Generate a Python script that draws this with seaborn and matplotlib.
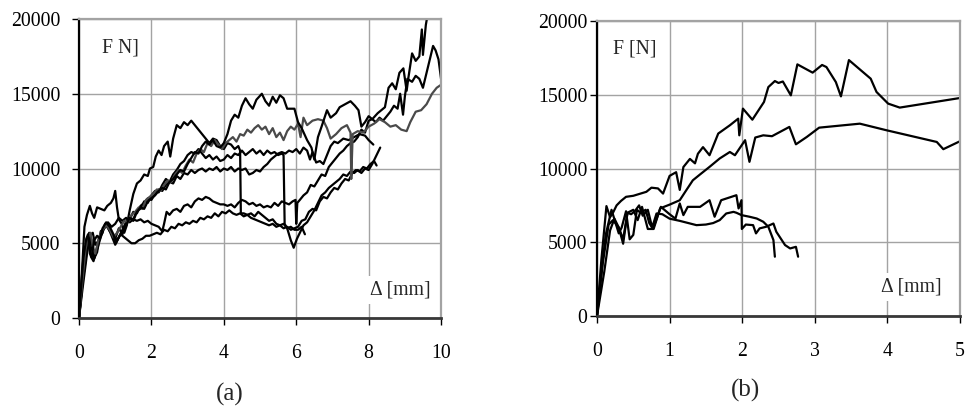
import numpy as np
import pandas as pd
import matplotlib
matplotlib.use("Agg")
import matplotlib.pyplot as plt
import seaborn as sns

# ---- panel (a): force F [N] vs displacement [mm], seven specimens ----
a_top = np.array([
    (0, 0), (0.05, 1800), (0.12, 4000), (0.2, 5300), (0.25, 5600), (0.3, 4300), (0.35, 4100),
    (0.42, 5200), (0.5, 5500), (0.58, 5300), (0.65, 6000), (0.75, 6400), (0.85, 6100),
    (0.95, 5600), (1.02, 5000), (1.1, 5400), (1.2, 5800), (1.3, 6200), (1.4, 6700), (1.5, 6500),
    (1.6, 7100), (1.7, 7400), (1.8, 7300), (1.9, 7800), (2.0, 8000), (2.1, 8200), (2.2, 8500),
    (2.3, 8700), (2.4, 8600), (2.5, 9100), (2.6, 9300), (2.7, 9600), (2.8, 9900), (2.9, 9800),
    (3.0, 10300), (3.1, 10700), (3.2, 11100), (3.3, 11000), (3.4, 11500), (3.5, 11800),
    (3.6, 11600), (3.7, 11900), (3.8, 11500), (3.9, 11400), (4.0, 11700), (4.1, 12300),
    (4.2, 13200), (4.3, 13600), (4.4, 13400), (4.5, 14200), (4.6, 14700), (4.7, 14300),
    (4.8, 14000), (4.9, 14600), (5.05, 15000), (5.15, 14500), (5.25, 14200), (5.35, 14800),
    (5.45, 14400), (5.55, 14900), (5.65, 14700), (5.75, 14000), (5.85, 14000), (5.95, 14000),
    (6.05, 13100), (6.15, 12700), (6.3, 11900), (6.42, 11400), (6.5, 10600), (6.6, 12100),
    (6.7, 12800), (6.85, 13900), (6.95, 13400), (7.1, 13700), (7.2, 14100), (7.35, 14300),
    (7.5, 14500), (7.62, 14200), (7.72, 13900), (7.8, 12800), (7.9, 13100), (8.0, 13500),
    (8.1, 13300), (8.25, 13700), (8.45, 14100), (8.55, 15400), (8.65, 15700), (8.75, 15300),
    (8.85, 16400), (8.96, 16700), (9.05, 15200), (9.1, 16100), (9.2, 17700), (9.3, 17200),
    (9.4, 17500), (9.47, 19300), (9.5, 17600), (9.58, 19600), (9.65, 20600),
])

a_grey = np.array([
    (0, 0), (0.08, 2200), (0.18, 4600), (0.25, 5400), (0.32, 5700), (0.38, 4800), (0.45, 4300),
    (0.55, 5400), (0.65, 5900), (0.75, 6200), (0.85, 5900), (0.95, 5400), (1.05, 5700),
    (1.15, 6100), (1.25, 6500), (1.35, 6400), (1.45, 6900), (1.55, 7100), (1.65, 7400),
    (1.75, 7300), (1.85, 7900), (1.95, 8100), (2.05, 8300), (2.15, 8600), (2.25, 8500),
    (2.35, 8900), (2.45, 9200), (2.55, 9100), (2.65, 9600), (2.75, 9900), (2.85, 9700),
    (2.95, 10200), (3.05, 10600), (3.15, 10400), (3.25, 11000), (3.35, 11300), (3.45, 11100),
    (3.55, 11700), (3.65, 11500), (3.75, 11900), (3.85, 11600), (3.95, 11300), (4.05, 11700),
    (4.15, 11900), (4.25, 12100), (4.35, 11800), (4.45, 12300), (4.55, 12200), (4.65, 12600),
    (4.75, 12400), (4.85, 12700), (4.95, 12900), (5.05, 12600), (5.15, 12800), (5.25, 12300),
    (5.35, 12700), (5.45, 12100), (5.55, 12400), (5.65, 11900), (5.75, 12500), (5.85, 12800),
    (5.95, 12600), (6.05, 13000), (6.12, 12100), (6.2, 13400), (6.3, 12900), (6.45, 13200),
    (6.6, 13300), (6.75, 13200), (6.85, 12700), (6.95, 12000), (7.1, 12300), (7.25, 12700),
    (7.4, 12900), (7.5, 12400), (7.52, 9300), (7.56, 12300), (7.7, 12500), (7.85, 12400),
    (8.0, 12800), (8.15, 13000), (8.3, 13300), (8.45, 13100), (8.6, 12800), (8.75, 12900),
    (8.9, 12600), (9.05, 12500), (9.15, 13100), (9.3, 13800), (9.45, 13900), (9.6, 14300),
    (9.75, 15000), (9.88, 15400), (10.0, 15600),
])

a_plateau11 = np.array([
    (0, 0), (0.1, 2800), (0.2, 4400), (0.28, 5600), (0.35, 5200), (0.4, 3900), (0.5, 4400),
    (0.6, 5800), (0.7, 6000), (0.8, 6300), (0.9, 5700), (1.0, 5300), (1.1, 6000), (1.2, 5600),
    (1.3, 6400), (1.4, 6700), (1.5, 6600), (1.6, 7200), (1.7, 7300), (1.8, 7800), (1.9, 7700),
    (2.0, 8200), (2.1, 8500), (2.2, 8400), (2.3, 8900), (2.4, 9300), (2.5, 9100), (2.6, 9600),
    (2.7, 9900), (2.8, 10300), (2.9, 10500), (3.0, 10900), (3.1, 11100), (3.2, 11000),
    (3.3, 11300), (3.4, 11000), (3.5, 10700), (3.6, 10900), (3.7, 10600), (3.8, 10800),
    (3.9, 10500), (4.0, 10600), (4.1, 10900), (4.2, 10700), (4.3, 11000), (4.4, 10900),
    (4.5, 11200), (4.6, 10900), (4.7, 11100), (4.8, 11300), (4.9, 11000), (5.0, 11200),
    (5.1, 10900), (5.2, 11200), (5.3, 11000), (5.4, 11100), (5.5, 10900), (5.6, 11000),
    (5.65, 10900), (5.68, 6300), (5.75, 6000), (5.85, 5200), (5.93, 4700), (6.02, 5300),
    (6.1, 5700), (6.2, 6200), (6.3, 6400), (6.4, 6800), (6.5, 7200), (6.6, 7700), (6.7, 8200),
    (6.8, 8400), (6.9, 8700), (7.0, 8900), (7.1, 9100), (7.2, 9300), (7.3, 9600), (7.4, 9500),
    (7.5, 9800), (7.6, 9700), (7.7, 9900), (7.8, 9700), (7.9, 10000), (8.0, 9900),
    (8.1, 10300), (8.2, 10800), (8.32, 11400),
])

a_early = np.array([
    (0, 0), (0.08, 3000), (0.15, 6100), (0.22, 6900), (0.3, 7500), (0.36, 7000), (0.42, 6700),
    (0.5, 7400), (0.6, 7300), (0.7, 7200), (0.78, 7500), (0.88, 7700), (0.95, 8000),
    (1.0, 8500), (1.05, 7400), (1.1, 6600), (1.18, 6300), (1.25, 5700), (1.32, 6200),
    (1.4, 7200), (1.5, 8300), (1.6, 9000), (1.7, 9200), (1.8, 9600), (1.9, 9500),
    (1.96, 10000), (2.05, 10100), (2.12, 10800), (2.2, 11200), (2.28, 10900), (2.35, 11500),
    (2.45, 11800), (2.52, 10800), (2.6, 12000), (2.7, 12900), (2.8, 12700), (2.9, 13100),
    (3.0, 12900), (3.1, 13200), (3.2, 12900), (3.3, 12600), (3.4, 12300), (3.5, 12000),
    (3.6, 11700), (3.7, 12000), (3.8, 11900), (3.9, 11500), (4.0, 11300), (4.1, 11700),
    (4.2, 11600), (4.3, 11300), (4.4, 11500), (4.45, 11200), (4.47, 7000), (4.55, 7000),
    (4.65, 6900), (4.75, 7000), (4.85, 6800), (4.95, 7100), (5.05, 6900), (5.15, 6700),
    (5.25, 6500), (5.35, 6600), (5.45, 6300), (5.55, 6200), (5.65, 6300), (5.75, 6000),
    (5.85, 6100), (5.95, 5900), (6.05, 5900), (6.15, 6100), (6.24, 5600),
])

a_mid8 = np.array([
    (0, 0), (0.1, 2500), (0.2, 4600), (0.28, 5700), (0.35, 4700), (0.42, 4000), (0.5, 4600),
    (0.6, 5400), (0.7, 6100), (0.8, 6400), (0.9, 6100), (1.0, 6300), (1.1, 6700), (1.2, 6500),
    (1.3, 6700), (1.4, 6400), (1.5, 6600), (1.6, 6500), (1.7, 6600), (1.8, 6400), (1.9, 6500),
    (2.0, 6300), (2.1, 6200), (2.2, 6100), (2.3, 5800), (2.35, 6300), (2.42, 7100),
    (2.5, 6900), (2.6, 7200), (2.7, 7300), (2.8, 7100), (2.9, 7500), (3.0, 7600), (3.1, 7400),
    (3.2, 7800), (3.3, 8000), (3.4, 7900), (3.5, 8100), (3.6, 8000), (3.7, 7800), (3.8, 7700),
    (3.9, 7600), (4.0, 7600), (4.1, 7500), (4.2, 7600), (4.3, 7400), (4.4, 7700), (4.5, 7900),
    (4.6, 7800), (4.7, 7600), (4.8, 7700), (4.9, 7500), (5.0, 7600), (5.1, 7400), (5.2, 7500),
    (5.3, 7400), (5.4, 7700), (5.5, 7500), (5.6, 7800), (5.7, 7700), (5.8, 7600), (5.9, 7800),
    (5.98, 7900), (6.0, 6300), (6.03, 7700), (6.1, 7900), (6.2, 8200), (6.3, 8400),
    (6.4, 8900), (6.5, 8800), (6.6, 9200), (6.7, 9600), (6.8, 9500), (6.9, 10100),
    (7.0, 10400), (7.1, 10700), (7.2, 11000), (7.3, 11200), (7.4, 11500), (7.5, 11700),
    (7.6, 11800), (7.7, 12100), (7.8, 12600), (7.9, 12400), (8.0, 13200), (8.1, 13300),
    (8.2, 13100), (8.3, 13400), (8.4, 13200), (8.5, 13500), (8.6, 13800), (8.7, 14200),
    (8.8, 14000), (8.87, 15000), (8.95, 13600), (9.0, 14800), (9.07, 16000), (9.2, 15800),
    (9.3, 16200), (9.4, 16000), (9.5, 15400), (9.6, 16400), (9.7, 17400), (9.78, 18200),
    (9.85, 17900), (9.93, 17300), (10.0, 16000),
])

a_low = np.array([
    (0, 0), (0.1, 2400), (0.2, 4200), (0.3, 5500), (0.38, 5700), (0.45, 4900), (0.55, 5200),
    (0.65, 5900), (0.75, 6200), (0.85, 5800), (0.95, 5500), (1.05, 5200), (1.15, 5600),
    (1.25, 5400), (1.35, 5200), (1.45, 5000), (1.55, 5000), (1.65, 5200), (1.75, 5300),
    (1.85, 5500), (1.95, 5500), (2.05, 5600), (2.15, 5700), (2.25, 5600), (2.35, 5900),
    (2.45, 5800), (2.55, 6100), (2.65, 6000), (2.75, 6300), (2.85, 6200), (2.95, 6400),
    (3.05, 6300), (3.15, 6500), (3.25, 6400), (3.35, 6700), (3.45, 6600), (3.55, 6800),
    (3.65, 6700), (3.75, 7000), (3.85, 6800), (3.95, 7100), (4.05, 7000), (4.15, 7200),
    (4.25, 7000), (4.35, 6900), (4.45, 7000), (4.55, 6800), (4.65, 6900), (4.75, 6700),
    (4.85, 6600), (4.95, 6500), (5.05, 6400), (5.15, 6300), (5.25, 6200), (5.35, 6300),
    (5.45, 6100), (5.55, 6200), (5.65, 6000), (5.75, 6100), (5.85, 5900), (5.95, 6000),
    (6.05, 6100), (6.15, 6500), (6.25, 6600), (6.35, 7100), (6.45, 7300), (6.55, 7200),
    (6.65, 7800), (6.75, 8100), (6.85, 8000), (6.95, 8400), (7.05, 8700), (7.15, 8600),
    (7.25, 9000), (7.35, 9300), (7.45, 9200), (7.55, 9700), (7.65, 9900), (7.75, 9800),
    (7.85, 10100), (7.95, 10000), (8.05, 10300), (8.15, 10500), (8.22, 10200),
])

a_plateau10 = np.array([
    (0, 0), (0.1, 2000), (0.2, 3900), (0.27, 5300), (0.33, 4100), (0.4, 3800), (0.48, 4500),
    (0.55, 5300), (0.65, 5700), (0.72, 6300), (0.8, 6100), (0.9, 5500), (1.0, 4900),
    (1.1, 5400), (1.2, 5900), (1.3, 6400), (1.4, 6600), (1.5, 7100), (1.6, 7000), (1.7, 7500),
    (1.8, 7700), (1.9, 8000), (2.0, 7900), (2.1, 8300), (2.2, 8600), (2.3, 8500), (2.4, 8900),
    (2.5, 9100), (2.6, 9000), (2.7, 9500), (2.8, 9300), (2.9, 9700), (3.0, 9600), (3.1, 9900),
    (3.2, 9700), (3.3, 9900), (3.4, 10000), (3.5, 9800), (3.6, 10000), (3.7, 9900),
    (3.8, 10100), (3.9, 9800), (4.0, 10000), (4.1, 9900), (4.2, 10100), (4.3, 9800),
    (4.4, 10000), (4.5, 9900), (4.6, 10000), (4.7, 9600), (4.8, 9700), (4.9, 9900),
    (5.0, 9800), (5.1, 10100), (5.2, 10300), (5.3, 10600), (5.4, 10800), (5.5, 11000),
    (5.6, 11100), (5.7, 11000), (5.8, 11200), (5.9, 11100), (6.0, 11300), (6.1, 11000),
    (6.2, 11400), (6.3, 11200), (6.38, 10600), (6.45, 11100), (6.55, 10400), (6.65, 10500),
    (6.75, 10300), (6.85, 10900), (6.95, 11500), (7.05, 11800), (7.15, 11700), (7.3, 12000),
    (7.45, 11900), (7.6, 12100), (7.75, 12300), (7.9, 12200), (8.0, 11900), (8.13, 11600),
])

# ---- panel (b): four specimens ----
b_high = np.array([
    (0, 0), (0.06, 3800), (0.13, 7450), (0.18, 6700), (0.22, 7000), (0.27, 7500), (0.33, 7800),
    (0.4, 8080), (0.5, 8150), (0.6, 8300), (0.68, 8420), (0.75, 8700), (0.84, 8650),
    (0.91, 8300), (1.0, 9500), (1.09, 9750), (1.14, 8550), (1.19, 10100), (1.28, 10650),
    (1.35, 10350), (1.39, 11000), (1.46, 11450), (1.55, 10900), (1.67, 12370), (1.83, 12930),
    (1.945, 13380), (1.96, 12250), (2.01, 14060), (2.14, 13310), (2.3, 14510), (2.36, 15520),
    (2.45, 15930), (2.5, 15800), (2.56, 15900), (2.67, 14960), (2.76, 17060), (2.97, 16500),
    (3.1, 17020), (3.16, 16880), (3.29, 15860), (3.36, 14890), (3.47, 17350), (3.77, 16090),
    (3.85, 15190), (4.01, 14400), (4.17, 14130), (5.0, 14780),
])

b_second = np.array([
    (0, 0), (0.08, 3600), (0.16, 6200), (0.22, 6500), (0.3, 6000), (0.36, 4900), (0.42, 7000),
    (0.5, 7200), (0.56, 6500), (0.62, 7400), (0.7, 5900), (0.78, 5900), (0.87, 7300),
    (1.0, 7550), (1.14, 7850), (1.23, 8530), (1.32, 9200), (1.42, 9600), (1.55, 10110),
    (1.69, 10680), (1.83, 11120), (1.9, 10900), (2.04, 11920), (2.1, 10450), (2.18, 12100),
    (2.29, 12250), (2.41, 12190), (2.65, 12820), (2.74, 11640), (2.89, 12140), (3.06, 12770),
    (3.62, 13040), (3.99, 12590), (4.68, 11800), (4.77, 11310), (5.0, 11850),
])

b_short = np.array([
    (0, 0), (0.1, 3000), (0.18, 5800), (0.24, 6600), (0.3, 6000), (0.36, 5200), (0.42, 7000),
    (0.47, 6900), (0.52, 7100), (0.58, 7500), (0.63, 6800), (0.7, 7200), (0.76, 6000),
    (0.82, 6950), (0.9, 6900), (1.0, 6600), (1.14, 6450), (1.37, 6160), (1.5, 6200),
    (1.6, 6300), (1.69, 6500), (1.78, 6950), (1.88, 7060), (1.92, 7000), (1.99, 6840),
    (2.1, 6730), (2.2, 6610), (2.29, 6390), (2.36, 6050), (2.43, 5150), (2.45, 4020),
])

b_low = np.array([
    (0, 0), (0.05, 2500), (0.12, 5500), (0.2, 7200), (0.25, 6400), (0.3, 5600), (0.34, 6000),
    (0.4, 7100), (0.45, 5200), (0.5, 5500), (0.55, 7200), (0.6, 7000), (0.67, 7200),
    (0.72, 6300), (0.77, 5900), (0.88, 7400), (1.0, 6900), (1.08, 6600), (1.14, 7630),
    (1.19, 6840), (1.25, 7400), (1.42, 7400), (1.55, 7850), (1.62, 6730), (1.71, 7850),
    (1.92, 8190), (1.95, 7290), (1.99, 7850), (1.995, 5900), (2.05, 6200), (2.15, 6160),
    (2.19, 5600), (2.24, 5940), (2.33, 6050), (2.43, 6270), (2.47, 5710), (2.59, 4810),
    (2.66, 4580), (2.74, 4690), (2.77, 4020),
])

y_ticks = [0, 5000, 10000, 15000, 20000]
a_xticks = [0, 2, 4, 6, 8, 10]
b_xticks = [0, 1, 2, 3, 4, 5]

sns.set_theme(style="white")
plt.rcParams["font.family"] = ["Liberation Serif", "DejaVu Serif"]
plt.rcParams["font.size"] = 14

fig = plt.figure(figsize=(9.79, 4.08), dpi=100)
ax_a = fig.add_axes([0.0807, 0.2206, 0.3698, 0.7328])
ax_b = fig.add_axes([0.6098, 0.2255, 0.3708, 0.7230])

GRID = "#a3a3a3"


def draw(ax, curves, xmax, xticks, ylab_pad):
    for arr, col in curves:
        df = pd.DataFrame({"d": arr[:, 0], "F": arr[:, 1]})
        sns.lineplot(data=df, x="d", y="F", sort=False, estimator=None,
                     color=col, linewidth=1.6, ax=ax)
    ax.set_xlim(0, xmax)
    ax.set_ylim(0, 20000)
    ax.set_xticks(xticks)
    ax.set_yticks(y_ticks)
    ax.set_xlabel("")
    ax.set_ylabel("")
    ax.grid(True, color=GRID, linewidth=1.0)
    ax.set_axisbelow(True)
    for side in ("top", "right"):
        ax.spines[side].set_color(GRID)
        ax.spines[side].set_linewidth(1.6)
    ax.spines["left"].set_color("black")
    ax.spines["left"].set_linewidth(1.6)
    ax.spines["bottom"].set_color("#383838")
    ax.spines["bottom"].set_linewidth(2.0)
    ax.tick_params(axis="both", which="major", direction="out", length=5, width=1,
                   color="black", labelsize=14.2, labelcolor="black")
    ax.tick_params(axis="x", pad=14)
    ax.tick_params(axis="y", pad=ylab_pad)
    ax.tick_params(top=False, right=False, bottom=True, left=True)


draw(ax_a, [(a_plateau10, "black"), (a_low, "black"), (a_mid8, "black"),
            (a_early, "black"), (a_plateau11, "black"), (a_grey, "#4a4a4a"),
            (a_top, "black")], 10, a_xticks, 8.5)
draw(ax_b, [(b_low, "black"), (b_short, "black"), (b_second, "black"),
            (b_high, "black")], 5, b_xticks, 2)

box = dict(facecolor="white", edgecolor="none", pad=3)
ax_a.text(0.063, 0.903, "F N]", transform=ax_a.transAxes, ha="left", va="center",
          fontsize=14.2)
ax_a.text(0.97, 0.094, "Δ [mm]", transform=ax_a.transAxes, ha="right", va="center",
          fontsize=14.2, bbox=box)
ax_b.text(0.044, 0.905, "F [N]", transform=ax_b.transAxes, ha="left", va="center",
          fontsize=14.2)
ax_b.text(0.95, 0.098, "Δ [mm]", transform=ax_b.transAxes, ha="right", va="center",
          fontsize=14.2, bbox=box)

fig.text(0.235, 0.034, "(a)", ha="center", va="center", fontsize=18)
fig.text(0.761, 0.042, "(b)", ha="center", va="center", fontsize=18)

fig.savefig("out.png", dpi=100)
